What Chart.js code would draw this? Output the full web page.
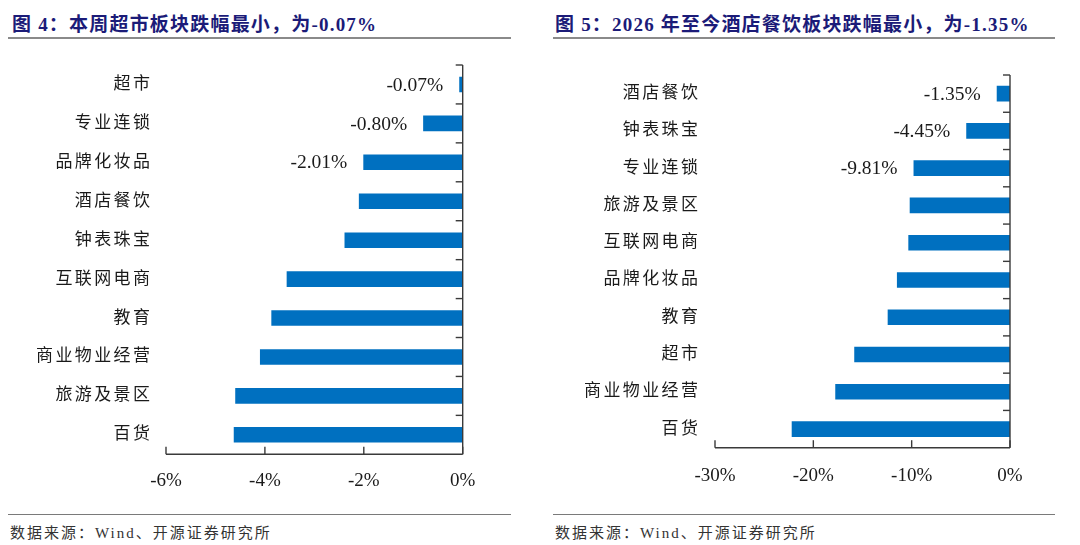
<!DOCTYPE html>
<html>
<head>
<meta charset="utf-8">
<script src="https://cdn.jsdelivr.net/npm/chart.js@4.4.1/dist/chart.umd.min.js"></script>
<style>
  html, body { margin: 0; padding: 0; background: #fff; }
  body { width: 1080px; height: 545px; position: relative; overflow: hidden; }
  .title { position: absolute; top: 9px; font-family: "Liberation Serif", "Noto Sans CJK SC", serif; font-weight: bold; font-size: 19px; letter-spacing: 1.2px; color: #1b1b78; white-space: nowrap; }
  .rule { position: absolute; height: 2px; background: #8a8a8a; }
  .rule2 { position: absolute; height: 1px; background: #7a7a7a; }
  .src { position: absolute; top: 521px; font-family: "Liberation Serif", "Noto Sans CJK SC", serif; font-size: 15px; letter-spacing: 2px; color: #333; white-space: nowrap; }
  .cv { position: absolute; top: 0; width: 540px; height: 545px; }
</style>
</head>
<body>
<div class="title" style="left:12px">图 4：本周超市板块跌幅最小，为-0.07%</div>
<div class="title" style="left:555px">图 5：2026 年至今酒店餐饮板块跌幅最小，为-1.35%</div>
<div class="rule" style="left:8px; width:503px; top:37px"></div>
<div class="rule" style="left:553px; width:502px; top:37px"></div>
<div class="rule2" style="left:8px; width:503px; top:514px"></div>
<div class="rule2" style="left:553px; width:502px; top:514px"></div>
<div class="src" style="left:10px">数据来源：Wind、开源证券研究所</div>
<div class="src" style="left:555px">数据来源：Wind、开源证券研究所</div>
<div class="cv" style="left:0"><canvas id="c1" width="540" height="545"></canvas></div>
<div class="cv" style="left:540px"><canvas id="c2" width="540" height="545"></canvas></div>
<script>
// ---- data ----
const leftCategories = ['超市','专业连锁','品牌化妆品','酒店餐饮','钟表珠宝','互联网电商','教育','商业物业经营','旅游及景区','百货'];
const leftValues = [-0.07, -0.80, -2.01, -2.10, -2.39, -3.56, -3.87, -4.10, -4.60, -4.63];
const leftTicks = [-6, -4, -2, 0];

const rightCategories = ['酒店餐饮','钟表珠宝','专业连锁','旅游及景区','互联网电商','品牌化妆品','教育','超市','商业物业经营','百货'];
const rightValues = [-1.35, -4.45, -9.81, -10.20, -10.34, -11.50, -12.44, -15.84, -17.77, -22.20];
const rightTicks = [-30, -20, -10, 0];

const labeledCount = 3; // only the first bars carry value labels

const BAR_COLOR = '#0070c0';
const AXIS_COLOR = '#3a3a3a';
const TEXT_COLOR = '#1a1a1a';
const NUM_FONT = '"Liberation Serif", "Times New Roman", serif';
const CJK_FONT = '"Liberation Serif", "Noto Sans CJK SC", serif';

function axesPlugin(cfg) {
  return {
    id: 'customAxes',
    afterDatasetsDraw(chart) {
      const ctx = chart.ctx;
      const xs = chart.scales.x, ys = chart.scales.y;
      const area = chart.chartArea;
      const x0 = xs.getPixelForValue(0);
      ctx.save();
      ctx.strokeStyle = AXIS_COLOR;
      ctx.lineWidth = 1.4;
      ctx.beginPath();
      ctx.moveTo(x0, area.top);
      ctx.lineTo(x0, area.bottom);
      ctx.stroke();
      ctx.beginPath();
      ctx.moveTo(area.left, area.bottom);
      ctx.lineTo(area.right, area.bottom);
      ctx.stroke();
      const n = cfg.categories.length;
      const step = ys.getPixelForValue(1) - ys.getPixelForValue(0);
      for (let i = 0; i < n; i++) {
        const yb = ys.getPixelForValue(i) - step / 2;
        ctx.beginPath();
        ctx.moveTo(x0 - 7, yb);
        ctx.lineTo(x0, yb);
        ctx.stroke();
      }
      ctx.fillStyle = TEXT_COLOR;
      ctx.font = '19px ' + NUM_FONT;
      ctx.textAlign = 'center';
      ctx.textBaseline = 'middle';
      cfg.ticks.forEach(t => {
        const px = xs.getPixelForValue(t);
        ctx.beginPath();
        ctx.moveTo(px, area.bottom - 7.5);
        ctx.lineTo(px, area.bottom);
        ctx.stroke();
        ctx.fillText(t + '%', px, area.bottom + cfg.tickLabelOffset);
      });
      ctx.font = '17px ' + CJK_FONT;
      ctx.textAlign = 'right';
      try { ctx.letterSpacing = '2.4px'; } catch (e) {}
      cfg.categories.forEach((c, i) => {
        const py = ys.getPixelForValue(i);
        ctx.fillText(c, cfg.labelRight + 2.4, py);
      });
      try { ctx.letterSpacing = '0px'; } catch (e) {}
      ctx.font = '19.5px ' + NUM_FONT;
      ctx.textAlign = 'right';
      for (let i = 0; i < labeledCount; i++) {
        const v = cfg.values[i];
        const px = xs.getPixelForValue(v);
        const py = ys.getPixelForValue(i);
        ctx.fillText(v.toFixed(2) + '%', px - 16, py + 1);
      }
      ctx.restore();
    }
  };
}

function makeChart(id, cfg) {
  new Chart(document.getElementById(id), {
    type: 'bar',
    data: {
      labels: cfg.categories,
      datasets: [{
        data: cfg.values,
        backgroundColor: BAR_COLOR,
        borderWidth: 0,
        barPercentage: cfg.barPct,
        categoryPercentage: 1.0
      }]
    },
    options: {
      indexAxis: 'y',
      responsive: false,
      animation: false,
      devicePixelRatio: 1,
      layout: { padding: cfg.padding },
      plugins: { legend: { display: false }, tooltip: { enabled: false } },
      scales: {
        x: { display: false, min: cfg.ticks[0], max: cfg.ticks[cfg.ticks.length - 1] },
        y: { display: false, offset: true }
      }
    },
    plugins: [axesPlugin(cfg)]
  });
}

makeChart('c1', {
  categories: leftCategories, values: leftValues, ticks: leftTicks,
  barPct: 0.4,
  padding: { left: 166, right: 77.3, top: 65, bottom: 90.7 },
  labelRight: 150, tickLabelOffset: 27
});
makeChart('c2', {
  categories: rightCategories, values: rightValues, ticks: rightTicks,
  barPct: 0.42,
  padding: { left: 175, right: 70, top: 75, bottom: 97.3 },
  labelRight: 158, tickLabelOffset: 28
});
</script>
</body>
</html>
